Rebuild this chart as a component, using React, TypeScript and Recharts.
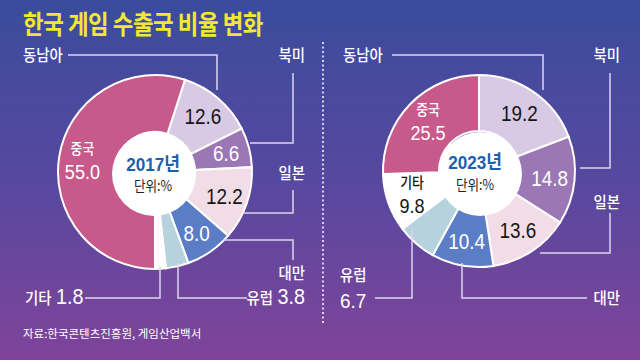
import { PieChart, Pie, Cell } from 'recharts';

const regions = ['동남아', '북미', '일본', '대만', '유럽', '기타', '중국'];
const share2017 = [12.6, 6.6, 12.2, 8.0, 3.8, 1.8, 55.0];
const share2023 = [19.2, 14.8, 13.6, 10.4, 6.7, 9.8, 25.5];

// slices labelled outside with a leader line instead of inside
const outside2017 = ['유럽', '기타'];
const outside2023 = ['유럽'];
// slices whose inside label also carries the region name
const named2017 = ['중국'];
const named2023 = ['중국', '기타'];

const colors: Record<string, string> = {
  동남아: '#d8cae5',
  북미: '#9b78b5',
  일본: '#f2dde6',
  대만: '#5b7dc6',
  유럽: '#b5d2dd',
  기타: '#ffffff',
  중국: '#c75a8a',
};
const darkText = ['동남아', '일본', '기타'];

const FONT = "'Liberation Sans', 'Noto Sans CJK KR', sans-serif";
const KFONT = "'Noto Sans CJK KR', sans-serif";
const RAD = Math.PI / 180;
const LINE = '#ddd5ee';
const SQ = 0.86; // the original uses a condensed face

const toRows = (vals: number[]) => regions.map((r, i) => ({ region: r, share: vals[i] }));

function makeLabel(outside: string[], named: string[], push: number) {
  return (p: any) => {
    const region = p.payload?.region ?? p.name;
    if (outside.includes(region)) return null;
    const r = (p.innerRadius + p.outerRadius) / 2 + push;
    const x = p.cx + r * Math.cos(-p.midAngle * RAD);
    const y = p.cy + r * Math.sin(-p.midAngle * RAD);
    const fill = darkText.includes(region) ? '#151515' : '#ffffff';
    const val = Number(p.value).toFixed(1);
    return (
      <g transform={`translate(${x},${y}) scale(${SQ},1)`}>
        {named.includes(region) ? (
          <>
            <text x={0} y={-7} textAnchor="middle" fontSize={15} fontWeight={500} fontFamily={KFONT} fill={fill}>{region}</text>
            <text x={0} y={18} textAnchor="middle" fontSize={21} fontFamily={FONT} fill={fill}>{val}</text>
          </>
        ) : (
          <text x={0} y={8} textAnchor="middle" fontSize={22} fontFamily={FONT} fill={fill}>{val}</text>
        )}
      </g>
    );
  };
}

function Tag({ x, y, anchor = 'start', name, value }: { x: number; y: number; anchor?: 'start' | 'end'; name: string; value?: string }) {
  return (
    <g transform={`translate(${x},${y}) scale(0.9,1)`}>
      <text x={0} y={6} textAnchor={anchor} fill="#fff" fontFamily={KFONT} fontWeight={500} fontSize={16}>
        {name}
        {value && <tspan fontFamily={FONT} fontSize={22} dx={5}>{value}</tspan>}
      </text>
    </g>
  );
}

export default function App() {
  return (
    <div
      style={{
        position: 'absolute', left: 0, top: 0, width: 640, height: 360, overflow: 'hidden',
        background: 'linear-gradient(180deg, #3a4c9d 0%, #57489f 50%, #7f449a 100%)',
      }}
    >
      <PieChart width={640} height={360} margin={{ top: 0, right: 0, bottom: 0, left: 0 }}>
        <Pie
          data={toRows(share2017)} dataKey="share" nameKey="region"
          cx={155} cy={172} innerRadius={40} outerRadius={97}
          startAngle={72} endAngle={-288}
          stroke="#ffffff" strokeWidth={2}
          label={makeLabel(outside2017, named2017, 5)} labelLine={false}
          isAnimationActive={false}
        >
          {regions.map((r) => <Cell key={r} fill={colors[r]} />)}
        </Pie>
        <Pie
          data={toRows(share2023)} dataKey="share" nameKey="region"
          cx={479} cy={171} innerRadius={40} outerRadius={96}
          startAngle={90} endAngle={-270}
          stroke="#ffffff" strokeWidth={2}
          label={makeLabel(outside2023, named2023, 3)} labelLine={false}
          isAnimationActive={false}
        >
          {regions.map((r) => <Cell key={r} fill={colors[r]} />)}
        </Pie>
      </PieChart>

      <svg width={640} height={360} style={{ position: 'absolute', left: 0, top: 0, pointerEvents: 'none' }}>
        <g transform="translate(23,34) scale(0.86,1)">
          <text x={0} y={0} fill="#f4e733" fontFamily={KFONT} fontWeight="bold" fontSize={26} letterSpacing={-0.5}>
            한국 게임 수출국 비율 변화
          </text>
        </g>

        <line x1={323} y1={42} x2={323} y2={325} stroke="#fff" strokeWidth={1.5} strokeDasharray="2 2.5" />

        {/* hubs */}
        <circle cx={154} cy={174} r={42} fill="#fff" />
        <g transform="translate(153,0) scale(0.9,1)">
          <text x={0} y={171} textAnchor="middle" fill="#1c5fae" fontFamily={FONT} fontWeight={600} fontSize={19}>2017년</text>
          <text x={0} y={191} textAnchor="middle" fill="#222" fontFamily={KFONT} fontSize={14}>단위:%</text>
        </g>

        <circle cx={480} cy={174} r={42} fill="#fff" />
        <g transform="translate(475,0) scale(0.9,1)">
          <text x={0} y={169} textAnchor="middle" fill="#1c5fae" fontFamily={FONT} fontWeight={600} fontSize={19}>2023년</text>
          <text x={0} y={190} textAnchor="middle" fill="#222" fontFamily={KFONT} fontSize={14}>단위:%</text>
        </g>

        {/* leader lines */}
        <g fill="none" stroke={LINE} strokeWidth={1.5}>
          <path d="M68,55 H217 V90" />
          <path d="M293,73 V143 H250" />
          <path d="M293,190 V213 H243" />
          <path d="M223,240 H293 V260" />
          <path d="M178,263 V298 H247" />
          <path d="M85,298 H160 V267" />
          <path d="M392,55 H543 V90" />
          <path d="M610,73 V168 H580" />
          <path d="M610,213 V253 H540" />
          <path d="M462,263 V298 H587" />
          <path d="M375,298 H412 V230" />
        </g>

        <Tag x={23} y={55} name="동남아" />
        <Tag x={305} y={55} anchor="end" name="북미" />
        <Tag x={305} y={173} anchor="end" name="일본" />
        <Tag x={305} y={273} anchor="end" name="대만" />
        <Tag x={305} y={298} anchor="end" name="유럽" value="3.8" />
        <Tag x={25} y={298} name="기타" value="1.8" />

        <Tag x={343} y={55} name="동남아" />
        <Tag x={620} y={55} anchor="end" name="북미" />
        <Tag x={620} y={202} anchor="end" name="일본" />
        <Tag x={620} y={298} anchor="end" name="대만" />
        <Tag x={340} y={275} name="유럽" />
        <g transform="translate(340,308) scale(0.9,1)">
          <text x={0} y={0} fill="#fff" fontFamily={FONT} fontSize={21}>6.7</text>
        </g>

        <text x={23} y={338} fill="#fff" fontFamily={KFONT} fontSize={11.5}>자료:한국콘텐츠진흥원, 게임산업백서</text>
      </svg>
    </div>
  );
}
